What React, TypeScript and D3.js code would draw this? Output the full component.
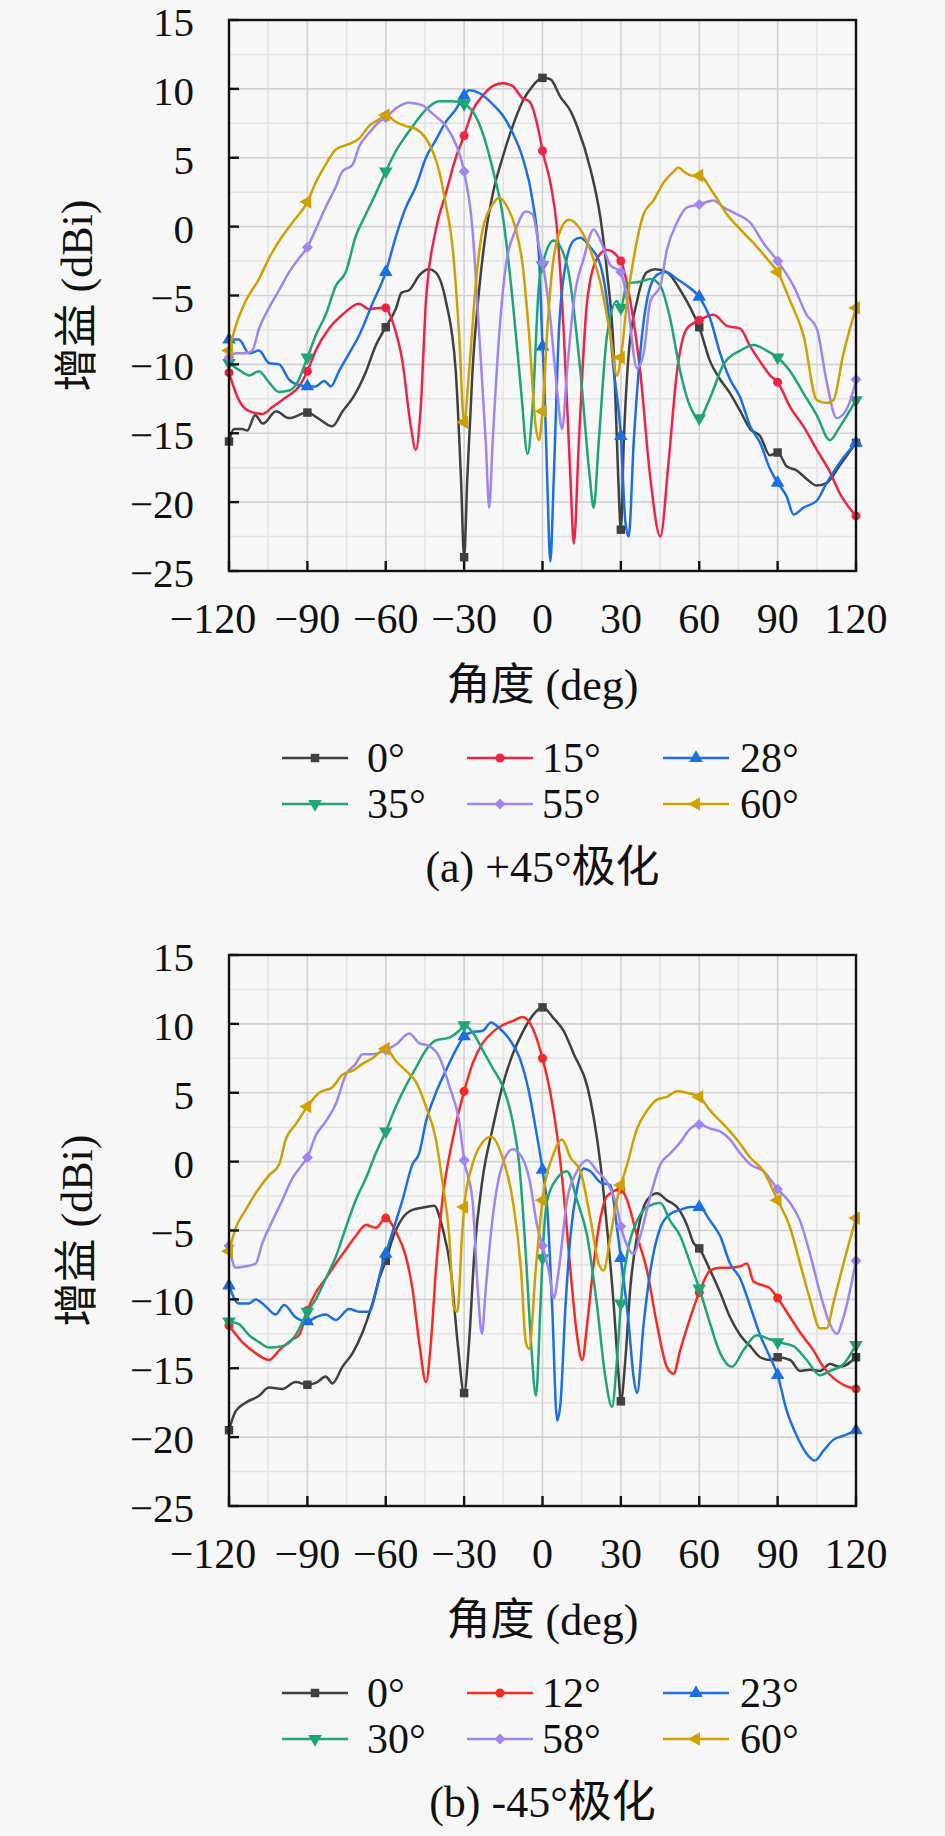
import * as d3 from "d3";
import { useEffect } from "react";

type Pt = [number, number];

const ANGLE_TICKS = [-120, -90, -60, -30, 0, 30, 60, 90, 120];
const GAIN_TICKS = [15, 10, 5, 0, -5, -10, -15, -20, -25];

const PLUS_LABELS = ["0°", "15°", "28°", "35°", "55°", "60°"];
const MINUS_LABELS = ["0°", "12°", "23°", "30°", "58°", "60°"];

const PLUS_COLORS = ["#404040", "#ee2446", "#1c6fe0", "#1fa478", "#a084f0", "#cfa000"];
const MINUS_COLORS = ["#404040", "#f52a22", "#1c6fe0", "#1fa478", "#a084f0", "#cfa000"];

const MARKERS = ["square", "circle", "triUp", "triDown", "diamond", "triLeft"];

// (a) +45° polarisation
const plus0: Pt[] = [[-120,-15.6],[-118,-14.7],[-115,-14.7],[-113,-14.8],[-110,-13.7],[-107,-14.3],[-102,-13.4],[-97,-13.9],[-90,-13.5],[-86,-13.9],[-80.5,-14.5],[-76.5,-13.4],[-72.5,-12.4],[-67.5,-10.5],[-64,-8.7],[-60,-7.3],[-56,-5.9],[-54,-4.8],[-51,-4.6],[-47,-3.5],[-43.5,-3.1],[-41,-3.3],[-37,-5.4],[-33.2,-10.5],[-31.2,-18.3],[-30,-24],[-28.8,-18.3],[-26.8,-10.5],[-24,-4.1],[-21.5,-0.2],[-19,2.4],[-15.3,5.0],[-11.4,7.3],[-7.6,9.1],[-3.8,10.2],[0,10.8],[3,10.7],[6.9,9.4],[10.7,8.4],[13.2,7.3],[18.3,4.2],[22.2,0.6],[24.7,-3.3],[27.3,-9.2],[29,-18.3],[30,-22],[31.1,-15.7],[33,-9.2],[36.2,-5.4],[40,-3.3],[43.2,-3.1],[47.6,-3.3],[52.7,-4.6],[56.6,-5.9],[60,-7.3],[64.2,-9.8],[68,-11.1],[71.8,-12.1],[75.7,-13.4],[79.5,-14.7],[83.3,-15.2],[87,-16.6],[90,-16.4],[93.5,-17.4],[97.3,-17.7],[101,-18.3],[105,-18.8],[108.8,-18.6],[113.9,-17.3],[120,-15.7]];
const plus15: Pt[] = [[-120,-10.6],[-116.2,-12.6],[-112.3,-13.4],[-107.2,-13.6],[-103.4,-13.1],[-98.3,-12.4],[-93.2,-11.6],[-90,-10.5],[-86.8,-9.0],[-81.7,-7.4],[-76.6,-6.4],[-70.2,-5.6],[-66.4,-6.0],[-62.5,-5.9],[-60,-5.9],[-57.4,-6.9],[-53.6,-9.8],[-50.4,-14.5],[-48.5,-16.2],[-46.6,-13.1],[-44.6,-5.4],[-40.8,-0.2],[-37,2.4],[-33.2,5.0],[-30,6.6],[-26.8,8.4],[-22.9,9.5],[-19.1,10.2],[-15.3,10.4],[-11.4,10.2],[-7.6,9.3],[-5.1,9.1],[-1.3,6.8],[0,5.5],[3,3.2],[5.6,-0.2],[8.2,-7.9],[10.7,-18.3],[12,-23],[13.9,-15.7],[17.1,-5.4],[20.9,-2.3],[24.7,-1.7],[30,-2.5],[33.6,-5.4],[37.4,-10.5],[41.3,-18.3],[45.1,-22.5],[48.3,-17.0],[51.5,-10.5],[55.3,-7.4],[60,-6.8],[65.5,-6.4],[70.6,-7.2],[75.7,-7.4],[79.5,-8.7],[83.3,-9.8],[87.1,-10.8],[90,-11.3],[94.8,-13.1],[99.9,-14.5],[105,-16.2],[110,-17.8],[113.9,-19.4],[120,-21]];
const plus28: Pt[] = [[-120,-8.2],[-116.2,-8.2],[-112.3,-9.2],[-108.5,-9.0],[-104.7,-9.9],[-100.8,-10.0],[-97,-11.1],[-93.2,-11.5],[-90,-11.6],[-86.8,-11.6],[-83.6,-11.2],[-81,-11.6],[-77.9,-10.5],[-74,-9.2],[-70.2,-7.9],[-65.1,-5.6],[-60,-3.3],[-56.1,-0.7],[-52.3,1.4],[-48.5,2.9],[-44.6,5.0],[-40.8,6.3],[-37,7.6],[-33.2,8.5],[-30,9.5],[-28.1,9.9],[-24.2,9.7],[-19.1,8.9],[-15.3,8.1],[-11.4,6.8],[-7.6,5.0],[-3.8,1.9],[-1.3,-2.3],[0,-8.7],[0.6,-10.8],[1.8,-18.3],[3,-24.3],[4.3,-18.3],[6.2,-7.9],[8.8,-2.8],[12,-1.0],[14.5,-0.8],[18.3,-1.5],[22.2,-2.8],[24.7,-5.4],[27.3,-10.5],[30,-15.2],[31.7,-21.4],[33,-22.5],[34.9,-15.7],[37.4,-9.2],[40.6,-4.8],[43.8,-3.5],[47,-3.3],[51.5,-3.8],[55.3,-4.3],[60,-5.1],[64.2,-6.7],[68,-9.2],[71.8,-11.1],[75.7,-12.4],[79.5,-14.5],[83.3,-15.7],[87.1,-17.6],[90,-18.6],[93.5,-19.6],[96.1,-20.9],[99.9,-20.4],[105,-19.9],[108.8,-18.6],[113.9,-17.1],[120,-15.7]];
const plus35: Pt[] = [[-120,-9.9],[-116.2,-10.4],[-112.3,-10.8],[-108.5,-10.5],[-104.7,-11.3],[-100.8,-12.0],[-97,-11.9],[-93.8,-11.3],[-90,-9.5],[-86.8,-7.9],[-83,-6.4],[-79.1,-4.3],[-75.3,-3.3],[-71.5,-0.7],[-67.6,0.9],[-63.8,2.4],[-60,4.0],[-56.1,5.5],[-52.3,6.6],[-48.5,7.6],[-44.6,8.5],[-39.5,9.1],[-34.4,9.1],[-30,8.9],[-26.8,8.4],[-22.9,6.8],[-19.1,4.2],[-15.3,0.9],[-11.4,-5.4],[-8.2,-11.9],[-5.7,-16.5],[-3.8,-13.1],[-1.3,-4.1],[0,-2.8],[4.3,-1.0],[9.4,-2.8],[14.5,-10.5],[18,-18],[19.6,-20.4],[21.5,-15.7],[24.7,-7.9],[28.5,-5.4],[30,-5.9],[32.4,-4.1],[37.4,-4.0],[41.3,-3.8],[45.1,-4.3],[48.9,-6.7],[52.7,-10.5],[56.6,-13.1],[60,-13.9],[64.2,-12.4],[69.3,-10.0],[75.7,-9.0],[80.8,-8.6],[85.8,-9.0],[90,-9.5],[94.8,-10.5],[99.9,-12.1],[105,-13.7],[110,-15.5],[113.9,-14.5],[120,-12.6]];
const plus55: Pt[] = [[-120,-9.5],[-117.4,-9.2],[-113.6,-9.2],[-111.1,-9.0],[-108.5,-7.4],[-104.7,-5.9],[-100.8,-4.6],[-97,-3.3],[-93.2,-2.3],[-90,-1.5],[-86.8,-0.2],[-83,1.4],[-79.1,2.9],[-76.6,4.0],[-72.7,4.5],[-70.2,5.8],[-66.4,6.8],[-62.5,7.6],[-60,7.9],[-56.1,8.6],[-51,9.0],[-45.9,8.8],[-42.1,8.2],[-37,7.3],[-33.2,6.0],[-30,4.0],[-26.8,-0.2],[-24.2,-7.9],[-21.7,-15.7],[-20.4,-20.4],[-19.1,-15.7],[-16.6,-7.9],[-14,-2.8],[-10.2,-0.2],[-6.4,1.1],[-3.8,0.9],[-1.3,-1.5],[0,-2.6],[3,-6.7],[5.6,-11.9],[7.5,-14.7],[9.4,-10.5],[12,-5.4],[15.8,-2.3],[19.6,-0.2],[22.2,-1.0],[26,-2.8],[30,-3.3],[32.4,-5.4],[36.2,-10.3],[38.7,-9.2],[41.3,-5.4],[45.1,-4.3],[47.6,-1.7],[51.5,0.3],[55.3,1.4],[60,1.6],[65.5,1.9],[69.3,1.4],[74.4,0.9],[79.5,0.3],[84.6,-1.2],[90,-2.5],[96.1,-4.3],[101.1,-6.4],[105,-7.4],[108.8,-11.3],[112.6,-13.9],[115.2,-13.6],[119,-11.9],[120,-11.1]];
const plus60: Pt[] = [[-120,-9.0],[-117.4,-7.2],[-113.6,-5.4],[-108.5,-3.8],[-104.7,-2.3],[-99.6,-0.7],[-95.7,0.3],[-90,1.8],[-86.8,3.2],[-83,4.5],[-79.1,5.6],[-74,6.0],[-70.2,6.4],[-66.4,7.3],[-62.5,7.8],[-60,8.1],[-56.1,7.6],[-52.3,7.3],[-48.5,7.1],[-44.6,6.4],[-42.1,5.5],[-39.5,4.0],[-37,1.6],[-34.4,-1.5],[-31.9,-7.9],[-30,-14.2],[-28.1,-10.5],[-25.5,-4.1],[-22.9,-0.2],[-19.1,1.6],[-16.6,2.1],[-13.4,1.4],[-10.2,-0.2],[-7.6,-2.8],[-5.1,-7.9],[-2.6,-14.5],[-1.3,-15.5],[0,-13.4],[2,-7.0],[3.5,-3.5],[6.2,-0.6],[10.1,0.5],[14.5,-0.2],[18.3,-1.7],[22.2,-4.1],[26,-7.9],[28.5,-10.8],[30,-9.5],[32.4,-5.4],[34.9,-2.3],[38.7,0.9],[42.5,1.9],[46.4,3.2],[50.2,4.0],[52,4.3],[54,4.0],[57.2,3.7],[60,3.7],[65.5,2.4],[70.6,0.9],[75.7,-0.2],[80.8,-1.2],[85.8,-2.3],[90,-3.3],[94.8,-5.4],[99.9,-7.9],[105,-12.6],[108.8,-12.8],[111.3,-12.6],[115.2,-9.2],[120,-5.9]];

// (b) -45° polarisation
const minus0: Pt[] = [[-120,-19.5],[-117.4,-18.1],[-113.6,-17.5],[-108.5,-17.0],[-104.7,-16.4],[-99.6,-16.5],[-94.5,-16.0],[-90,-16.2],[-86.2,-16.0],[-83,-15.6],[-80.4,-16.1],[-76.6,-14.9],[-72.7,-13.9],[-68.9,-12.4],[-65.1,-10.3],[-62.5,-8.5],[-60,-7.2],[-57.4,-5.6],[-53.6,-4.1],[-49.8,-3.5],[-44.6,-3.3],[-41.5,-3.2],[-38.3,-4.8],[-35.1,-7.9],[-32.5,-13.1],[-30,-16.8],[-28.1,-13.1],[-26.1,-6.7],[-22.9,-1.2],[-19.1,2.4],[-15.3,5.5],[-11.4,7.8],[-7.6,9.4],[-3.8,10.6],[0,11.2],[4.3,10.4],[8.1,9.5],[12,7.8],[17.1,5.5],[19.6,3.2],[22.2,-0.2],[24.7,-4.8],[27.3,-10.5],[29.2,-15.7],[30,-17.4],[31.7,-14.4],[33.6,-9.2],[36.2,-5.4],[40,-2.8],[43.8,-2.3],[47.6,-2.8],[51.5,-3.3],[55.3,-4.6],[57.8,-5.9],[60,-6.3],[64.2,-7.9],[68,-9.5],[71.8,-11.3],[75.7,-12.6],[79.5,-13.4],[83.3,-14.2],[87.1,-14.4],[90,-14.2],[94.8,-14.4],[98.6,-15.2],[102.4,-15.1],[106.2,-15.2],[110,-14.7],[113.9,-14.9],[120,-14.2]];
const minus12: Pt[] = [[-120,-11.9],[-114.9,-13.1],[-109.8,-13.9],[-104.7,-14.4],[-100.8,-13.7],[-95.7,-12.9],[-93.2,-12.6],[-90,-10.8],[-86.8,-9.5],[-83,-8.5],[-79.1,-7.4],[-75.3,-6.4],[-71.5,-5.4],[-67.6,-4.6],[-63.8,-4.8],[-60,-4.1],[-56.1,-5.1],[-52.3,-6.9],[-49.8,-9.2],[-47.2,-13.1],[-44.6,-16.0],[-42.7,-13.1],[-40.8,-7.9],[-38.3,-2.8],[-34.4,1.6],[-30,5.1],[-26.8,7.1],[-22.9,8.6],[-19.1,9.4],[-15.3,9.9],[-11.4,10.2],[-7.6,10.5],[-3.8,9.7],[0,7.5],[3,5.0],[5.6,1.9],[8.1,-2.3],[10.7,-7.9],[13.2,-12.6],[15.2,-14.4],[17.1,-11.8],[19.6,-7.4],[22.2,-4.1],[24.7,-2.5],[30,-2.0],[32.4,-2.8],[36.2,-5.4],[40,-7.9],[43.8,-11.8],[47.6,-14.9],[50.2,-15.4],[52.7,-13.7],[56.6,-11.3],[60,-9.5],[64.2,-7.9],[68,-7.7],[71.8,-7.7],[75.7,-7.6],[78.2,-7.4],[80.8,-8.7],[84.6,-9.0],[87.1,-9.2],[90,-9.9],[94.8,-11.3],[98.6,-12.4],[103.7,-13.7],[107.5,-14.9],[111.3,-15.7],[115.2,-16.2],[120,-16.5]];
const minus23: Pt[] = [[-120,-9.0],[-116.2,-10.3],[-112.3,-10.3],[-109.8,-10.0],[-106,-10.5],[-102.1,-11.1],[-98.9,-10.4],[-94.5,-11.3],[-90,-11.6],[-86.8,-11.3],[-83,-11.1],[-79.1,-11.5],[-74,-10.7],[-70.2,-10.9],[-66.4,-10.9],[-63.8,-9.5],[-61.9,-7.9],[-60,-6.7],[-57.4,-5.1],[-53.6,-2.8],[-49.8,-0.2],[-47.2,0.6],[-44.6,2.9],[-40.8,5.0],[-37,6.6],[-33.2,8.1],[-30,9.1],[-26.8,9.4],[-22.9,9.5],[-19.7,10.1],[-16.6,9.7],[-12.7,8.9],[-8.9,7.6],[-5.1,5.0],[-2.6,2.4],[0,-0.6],[1.8,-3.3],[3.7,-10.5],[5.6,-18.8],[6.9,-17.5],[8.8,-10.5],[10.7,-5.4],[13.2,-2.0],[15.8,-0.5],[18.3,-0.7],[22.2,-1.5],[26,-1.7],[28.5,-4.8],[30,-7.0],[33,-11.8],[34.9,-15.7],[36.2,-16.8],[38.7,-11.8],[41.3,-7.9],[45.1,-4.8],[48.9,-3.8],[52.7,-3.5],[56.6,-3.3],[60,-3.3],[64.2,-4.3],[68,-5.4],[71.8,-7.4],[75.7,-8.5],[79.5,-10.5],[83.3,-12.6],[87.1,-14.2],[90,-15.5],[93.5,-18.1],[97.3,-19.9],[101.1,-21.2],[104.3,-21.7],[107.5,-21.0],[111.3,-20.2],[115.2,-19.9],[120,-19.5]];
const minus30: Pt[] = [[-120,-11.6],[-116.2,-11.8],[-112.3,-12.6],[-108.5,-13.1],[-104.7,-13.5],[-99.6,-13.4],[-94.5,-12.6],[-90,-10.9],[-86.8,-10.0],[-83,-8.5],[-79.1,-6.9],[-75.3,-4.8],[-71.5,-2.8],[-67.6,-1.2],[-63.8,0.6],[-60,2.2],[-56.1,4.0],[-52.3,5.5],[-48.5,6.8],[-44.6,8.1],[-40.8,8.8],[-35.7,9.0],[-31.9,9.5],[-30,9.9],[-26.8,9.4],[-22.9,8.1],[-19.1,6.8],[-15.3,5.5],[-11.4,2.9],[-8.9,-0.2],[-6.4,-6.7],[-4.4,-13.1],[-2.5,-17.0],[-0.8,-10.5],[0,-7.0],[1.8,-2.8],[5.6,-1.2],[9.4,-0.7],[13.2,-2.8],[17.1,-5.4],[20.9,-10.5],[24.1,-15.7],[26.6,-17.8],[28.5,-14.4],[30,-10.3],[32.4,-6.7],[36.2,-4.3],[40,-3.3],[45.1,-3.0],[48.9,-4.3],[52.7,-5.4],[56.6,-7.4],[60,-9.2],[64.2,-11.8],[68,-13.9],[72.5,-14.9],[76.9,-13.7],[82,-12.6],[87.1,-12.9],[90,-13.1],[96.1,-13.4],[101.1,-14.4],[106.2,-15.5],[110,-15.2],[115.2,-14.7],[120,-13.3]];
const minus58: Pt[] = [[-120,-6.1],[-117.4,-7.7],[-113.6,-7.6],[-109.8,-7.4],[-107.2,-5.9],[-103.4,-4.3],[-99.6,-2.8],[-95.7,-1.2],[-91.9,-0.2],[-90,0.3],[-86.8,1.9],[-83,2.9],[-79.1,4.2],[-75.3,6.3],[-71.5,7.1],[-68.9,7.8],[-65.1,7.8],[-60,8.1],[-56.1,8.5],[-51,9.3],[-47.2,8.6],[-43.4,8.4],[-39.5,7.6],[-35.7,5.5],[-31.9,2.9],[-30,0.1],[-26.8,-2.8],[-24.8,-9.2],[-23.2,-12.5],[-21.7,-9.2],[-19.1,-4.1],[-15.3,-0.2],[-11.4,0.9],[-8.9,0.6],[-5.1,-1.2],[-1.9,-4.8],[0,-6.1],[2.4,-7.9],[4.3,-9.9],[6.2,-7.9],[9.4,-2.8],[13.2,-0.7],[17.1,0.1],[20.9,-0.7],[24.7,-1.5],[28.5,-3.3],[30,-4.7],[32.4,-6.1],[34.9,-6.7],[37.4,-5.4],[41.3,-2.5],[45.1,-0.2],[48.9,0.6],[52.7,1.4],[56.6,2.4],[60,2.7],[64.2,2.4],[68,2.2],[71.8,1.6],[75.7,0.6],[79.5,-0.2],[84.6,-0.7],[90,-2.0],[94.8,-3.0],[98.6,-4.3],[102.4,-6.7],[106.2,-9.5],[110,-11.8],[112.6,-12.5],[115.2,-11.3],[120,-7.2]];
const minus60: Pt[] = [[-120,-6.5],[-117.4,-4.8],[-113.6,-3.5],[-109.8,-2.3],[-104.7,-1.0],[-100.8,-0.2],[-98.3,1.6],[-94.5,2.7],[-90,4.0],[-85.5,5.0],[-80.4,5.4],[-76.6,6.3],[-72.7,6.6],[-68.9,7.1],[-65.1,7.5],[-60,8.2],[-56.1,7.3],[-52.3,6.6],[-48.5,5.8],[-44.6,4.0],[-40.8,1.6],[-38.3,-1.5],[-35.7,-5.4],[-34,-10.5],[-32.6,-10.9],[-30.8,-5.4],[-30,-3.3],[-26.8,-0.2],[-22.9,1.4],[-19.7,1.8],[-15.3,0.3],[-11.4,-2.8],[-8.2,-7.9],[-6.4,-13.1],[-5.1,-13.6],[-2.6,-7.9],[0,-2.8],[4.3,0.6],[7.5,1.6],[10.7,0.3],[14.5,-0.7],[18.3,-4.1],[21.5,-7.4],[23.4,-7.9],[26,-5.4],[28.5,-2.8],[30,-1.7],[32.4,-0.2],[36.2,2.4],[40,3.7],[43.8,4.5],[47.6,4.7],[51.5,5.1],[55.3,5.0],[60,4.7],[64.2,3.7],[69.3,2.7],[74.4,1.6],[79.5,0.3],[84.6,-0.7],[90,-2.8],[94.8,-4.8],[98.6,-7.4],[102.4,-10.0],[106.2,-12.1],[108.8,-12.1],[111.3,-10.3],[115.2,-7.4],[120,-4.1]];

const PLUS_SERIES = [plus0, plus15, plus28, plus35, plus55, plus60];
const MINUS_SERIES = [minus0, minus12, minus23, minus30, minus58, minus60];

const FONT = "'Liberation Serif', 'Noto Sans CJK SC', serif";
const LEFT = 229;
const RIGHT = 856;
const PH = 551;
const PANEL_STEP = 935;

const x = d3.scaleLinear().domain([-120, 120]).range([LEFT, RIGHT]);

const fmt = (v: number) => (v < 0 ? "\u2212" + Math.abs(v) : String(v));

function markerPath(kind: string) {
  const sym = d3.symbol();
  if (kind === "square") return { d: sym.type(d3.symbolSquare).size(72)()!, rot: 0 };
  if (kind === "circle") return { d: sym.type(d3.symbolCircle).size(64)()!, rot: 0 };
  if (kind === "diamond") return { d: sym.type(d3.symbolSquare).size(60)()!, rot: 45 };
  const d = sym.type(d3.symbolTriangle).size(80)()!;
  if (kind === "triDown") return { d, rot: 180 };
  if (kind === "triLeft") return { d, rot: -90 };
  return { d, rot: 0 };
}

interface PanelProps {
  top: number;
  series: Pt[][];
  labels: string[];
  colors: string[];
  caption: string;
}

const Panel = ({ top, series, labels, colors, caption }: PanelProps) => {
  const y = d3.scaleLinear().domain([-25, 15]).range([top + PH, top]);
  const line = d3
    .line<Pt>()
    .x((d) => x(d[0]))
    .y((d) => y(d[1]))
    .curve(d3.curveMonotoneX);

  const minorX = d3.range(-105, 120, 30);
  const minorY = d3.range(-22.5, 15, 5);
  const bottom = top + PH;

  const legendLineX = [282, 467, 663];
  const legendTextX = [367, 542, 740];
  const legendRowY = [top + 738, top + 784];

  return (
    <g fontFamily={FONT}>
      {minorX.map((v) => (
        <line key={"mx" + v} x1={x(v)} x2={x(v)} y1={top} y2={bottom} stroke="#e4e4e4" strokeWidth={1.6} />
      ))}
      {minorY.map((v) => (
        <line key={"my" + v} x1={LEFT} x2={RIGHT} y1={y(v)} y2={y(v)} stroke="#e4e4e4" strokeWidth={1.6} />
      ))}
      {ANGLE_TICKS.map((v) => (
        <line key={"gx" + v} x1={x(v)} x2={x(v)} y1={top} y2={bottom} stroke="#d2d2d2" strokeWidth={1.6} />
      ))}
      {GAIN_TICKS.map((v) => (
        <line key={"gy" + v} x1={LEFT} x2={RIGHT} y1={y(v)} y2={y(v)} stroke="#d2d2d2" strokeWidth={1.6} />
      ))}

      {series.map((data, i) => {
        const m = markerPath(MARKERS[i]);
        return (
          <g key={"s" + i}>
            <path d={line(data)!} fill="none" stroke={colors[i]} strokeWidth={2.5} strokeLinejoin="round" />
            {data
              .filter((d) => d[0] % 30 === 0)
              .map((d) => (
                <path
                  key={d[0]}
                  d={m.d}
                  fill={colors[i]}
                  transform={`translate(${x(d[0])},${y(d[1])}) rotate(${m.rot})`}
                />
              ))}
          </g>
        );
      })}

      <rect x={LEFT} y={top} width={RIGHT - LEFT} height={PH} fill="none" stroke="#111" strokeWidth={2.4} />
      {GAIN_TICKS.map((v) => (
        <line key={"ty" + v} x1={LEFT} x2={LEFT + 10} y1={y(v)} y2={y(v)} stroke="#111" strokeWidth={2.4} />
      ))}
      {ANGLE_TICKS.map((v) => (
        <line key={"tx" + v} x1={x(v)} x2={x(v)} y1={bottom} y2={bottom - 10} stroke="#111" strokeWidth={2.4} />
      ))}

      {GAIN_TICKS.map((v) => (
        <text key={"ly" + v} x={194} y={y(v) + 16} fontSize={41} textAnchor="end" fill="#111">
          {fmt(v)}
        </text>
      ))}
      {ANGLE_TICKS.map((v, i) => (
        <text
          key={"lx" + v}
          x={x(v)}
          dx={i === 0 ? -16 : 0}
          y={bottom + 62}
          fontSize={42}
          textAnchor="middle"
          fill="#111"
        >
          {fmt(v)}
        </text>
      ))}

      <text
        transform={`translate(92,${top + PH / 2}) rotate(-90)`}
        fontSize={44}
        textAnchor="middle"
        fill="#111"
      >
        增益 (dBi)
      </text>
      <text x={(LEFT + RIGHT) / 2} y={top + 680} fontSize={44} textAnchor="middle" fill="#111">
        角度 (deg)
      </text>

      {labels.map((lab, i) => {
        const col = i % 3;
        const ry = legendRowY[Math.floor(i / 3)];
        const lx = legendLineX[col];
        const m = markerPath(MARKERS[i]);
        return (
          <g key={"lg" + i}>
            <line x1={lx} x2={lx + 66} y1={ry} y2={ry} stroke={colors[i]} strokeWidth={2.5} />
            <path d={m.d} fill={colors[i]} transform={`translate(${lx + 33},${ry}) rotate(${m.rot})`} />
            <text x={legendTextX[col]} y={ry + 14} fontSize={42} fill="#111">
              {lab}
            </text>
          </g>
        );
      })}

      <text x={(LEFT + RIGHT) / 2} y={top + 862} fontSize={44} textAnchor="middle" fill="#111">
        {caption}
      </text>
    </g>
  );
};

export default function App() {
  useEffect(() => {
    document.body.style.margin = "0";
    document.body.style.background = "#f7f7f7";
  }, []);

  return (
    <svg width={945} height={1836} style={{ display: "block", background: "#f7f7f7" }}>
      <Panel top={20} series={PLUS_SERIES} labels={PLUS_LABELS} colors={PLUS_COLORS} caption="(a) +45°极化" />
      <Panel
        top={20 + PANEL_STEP}
        series={MINUS_SERIES}
        labels={MINUS_LABELS}
        colors={MINUS_COLORS}
        caption="(b) -45°极化"
      />
    </svg>
  );
}
